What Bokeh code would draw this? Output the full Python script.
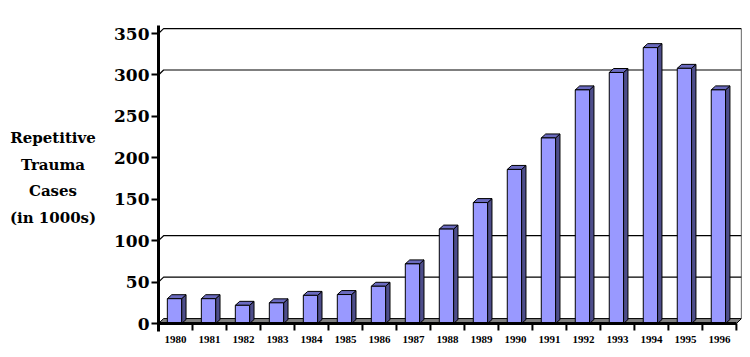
from bokeh.plotting import figure
from bokeh.models import FixedTicker, Range1d, ColumnDataSource, Div
from bokeh.layouts import row
from bokeh.embed import file_html
from bokeh.resources import INLINE

years = ["1980", "1981", "1982", "1983", "1984", "1985", "1986", "1987", "1988",
         "1989", "1990", "1991", "1992", "1993", "1994", "1995", "1996"]
cases = [30, 30, 22, 25, 34, 35, 45, 72, 114, 146, 186, 224, 282, 303, 333, 308, 282]
y_ticks = [0, 50, 100, 150, 200, 250, 300, 350]
wall_lines = [50, 100, 300, 350]
y_title_lines = ["Repetitive", "Trauma", "Cases", "(in 1000s)"]

FRONT = "#9999ff"
SIDE = "#4d4d8a"
TOP = "#6a6abf"
FLOOR = "#808080"
SERIF = "Times New Roman"
WIDE_SERIF = "DejaVu Serif"

n = len(years)
x_end = n - 0.5 + 0.15
p = figure(width=639, height=350, output_backend="svg", toolbar_location=None,
           x_range=Range1d(-0.5, x_end), y_range=Range1d(-9.6, 359.7),
           min_border_left=52, min_border_right=4, min_border_top=25, min_border_bottom=19)
p.outline_line_color = None
p.xgrid.visible = False
p.ygrid.visible = False

# 3D offsets (depth)
fdx, fdy = 0.15, 6.0   # floor / back wall
bdx, bdy = 0.13, 4.8   # bars

# back wall grid lines
gx, gy = [], []
for v in wall_lines:
    gx.append([-0.5, -0.5 + fdx, n - 0.5 + fdx])
    gy.append([v, v + fdy, v + fdy])
p.multi_line(gx, gy, line_color="black", line_width=1.2)
# right wall edge
p.line([n - 0.5 + fdx, n - 0.5 + fdx], [fdy, wall_lines[-1] + fdy], line_color="black", line_width=1.2)

# floor
p.patch([-0.5, n - 0.5, n - 0.5 + fdx, -0.5 + fdx], [0, 0, fdy, fdy],
        fill_color=FLOOR, line_color="black", line_width=1)

# bars
xs = list(range(n))
lefts = [i - 0.24 for i in xs]
rights = [i + 0.18 for i in xs]
side_x = [[r, r + bdx, r + bdx, r] for r in rights]
side_y = [[0, bdy, v + bdy, v] for v in cases]
top_x = [[l, r, r + bdx, l + bdx] for l, r in zip(lefts, rights)]
top_y = [[v, v, v + bdy, v + bdy] for v in cases]
p.patches(side_x, side_y, fill_color=SIDE, line_color="black", line_width=1)
p.patches(top_x, top_y, fill_color=TOP, line_color="black", line_width=1)
src = ColumnDataSource(dict(left=lefts, right=rights, top=cases))
p.quad(left="left", right="right", bottom=0, top="top", source=src,
       fill_color=FRONT, line_color="black", line_width=1)

# x axis line and boundary tick marks (drawn inside the frame, below the floor)
bounds = [i - 0.5 for i in range(n + 1)]
p.line([-0.5, n - 0.5], [0, 0], line_color="black", line_width=3)
p.segment(x0=bounds, y0=[0] * len(bounds), x1=bounds, y1=[-8.5] * len(bounds),
          line_color="black", line_width=2)

# y axis
ya = p.yaxis[0]
ya.ticker = FixedTicker(ticks=y_ticks)
ya.minor_tick_line_color = None
ya.axis_line_width = 3
ya.axis_line_color = "black"
ya.major_tick_line_width = 2
ya.major_tick_out = 7
ya.major_tick_in = 0
ya.major_label_standoff = 2
ya.major_label_text_font = WIDE_SERIF
ya.major_label_text_font_style = "bold"
ya.major_label_text_font_size = "17px"
ya.major_label_text_color = "black"

# x axis: year labels at category centers
xa = p.xaxis[0]
xa.ticker = FixedTicker(ticks=xs)
xa.major_label_overrides = {i: y for i, y in enumerate(years)}
xa.axis_line_color = None
xa.major_tick_line_color = None
xa.minor_tick_line_color = None
xa.major_tick_out = 0
xa.major_tick_in = 0
xa.major_label_standoff = 4
xa.major_label_text_font = SERIF
xa.major_label_text_font_style = "bold"
xa.major_label_text_font_size = "11px"
xa.major_label_text_color = "black"

# y title: centred lines to the left of the axis
title = Div(text="<br>".join(y_title_lines), width=106, height=350,
            styles={"text-align": "center", "font-family": "'DejaVu Serif', serif",
                    "font-weight": "bold", "font-size": "15px", "line-height": "26.5px",
                    "padding-top": "125px", "margin": "0", "color": "black",
                    "box-sizing": "border-box"})

layout = row(title, p, spacing=0)
open("out.html", "w").write(file_html(layout, INLINE))
